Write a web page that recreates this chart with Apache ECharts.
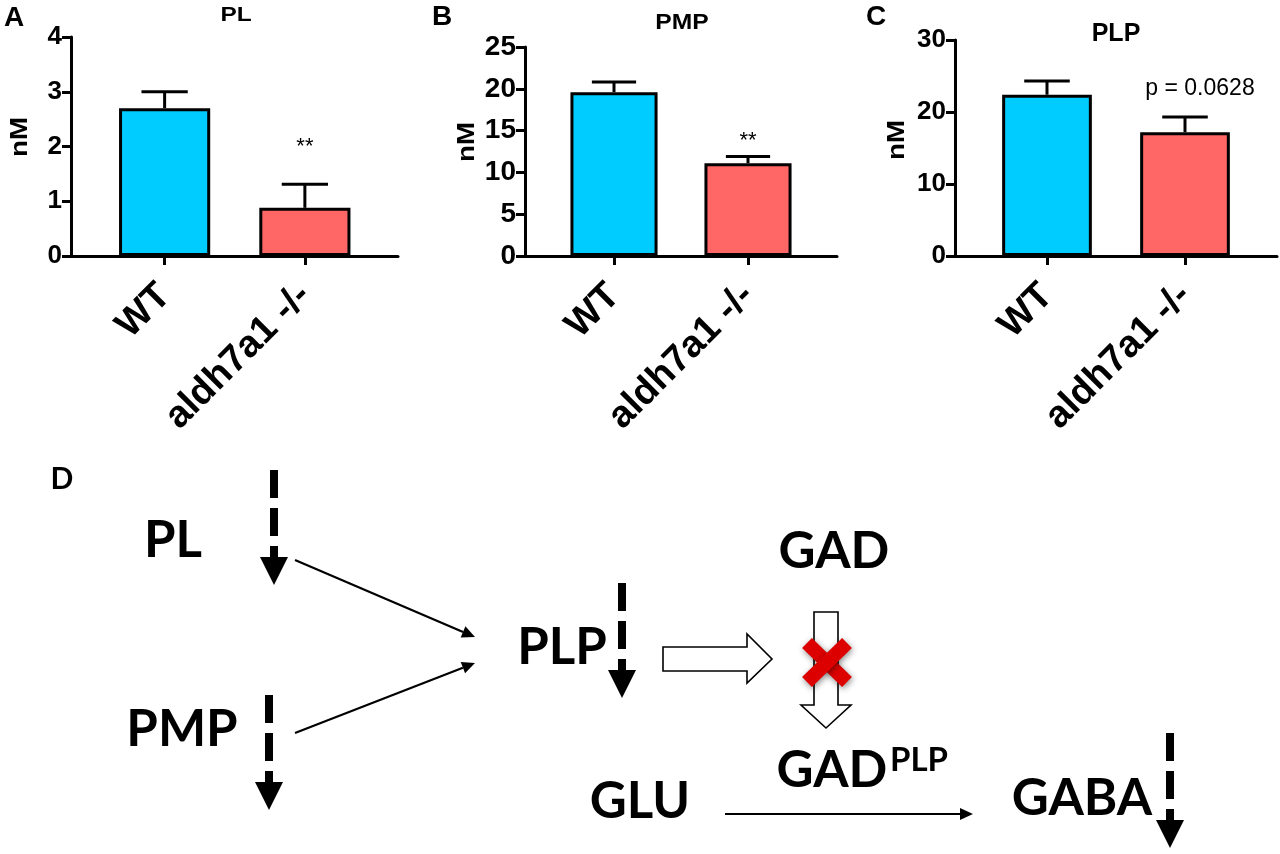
<!DOCTYPE html>
<html><head><meta charset="utf-8">
<script src="https://cdn.jsdelivr.net/npm/echarts@6/dist/echarts.min.js"></script>
<style>html,body{margin:0;padding:0;background:#fff}#chart{width:1280px;height:854px}</style>
</head><body><div id="chart"></div>
<script>
// ---- data ----
const categories = ['WT', 'aldh7a1 -/-'];
const plMean = [2.70, 0.88];
const plErr = [0.30, 0.43];
const pmpMean = [19.6, 11.1];
const pmpErr = [1.2, 0.8];
const plpMean = [22.4, 17.2];
const plpErr = [1.9, 2.1];
const panelTitles = ['PL', 'PMP', 'PLP'];
const panelLetters = ['A', 'B', 'C'];
const yMax = [4, 25, 30];
const yInterval = [1, 5, 10];
const annotText = ['**', '**', 'p = 0.0628'];
const annotValue = [2.0, 13.8, 23.2];
const annotCat = [1, 1, 1];
const barColors = ['#00CCFF', '#FF6666'];

// ---- layout (styling only) ----
const FONT = "Liberation Sans";
const DFONT = "Lato";
const layout = [
  {left: 94.5, right: 375, top: 37, axisX: 71, lineEnd: 398, tickFont: 26, titleX: 236, titleY: 15, titleSize: 20, titleScale: 1.22, letterX: 14, letterY: 18, nmX: 20, nmY: 137, annotDx: 0, annotSize: 22},
  {left: 547, right: 815, top: 47, axisX: 525, lineEnd: 837, tickFont: 28, titleX: 682, titleY: 23, titleSize: 22, titleScale: 1.12, letterX: 442, letterY: 17, nmX: 467, nmY: 142, annotDx: 0, annotSize: 22},
  {left: 978, right: 1254, top: 40, axisX: 955, lineEnd: 1277, tickFont: 26, titleX: 1116, titleY: 34, titleSize: 25, titleScale: 1.0, letterX: 876, letterY: 17, nmX: 897, nmY: 140, annotDx: 15, annotSize: 23}
];
const AXIS_BOTTOM = 256;
const means = [plMean, pmpMean, plpMean];
const errs = [plErr, pmpErr, plpErr];

const grid = [], xAxis = [], yAxis = [], series = [], graphic = [];

function tstyle(text, size, weight, family) {
  return {text, fill: '#000', fontSize: size, fontWeight: weight, fontFamily: family,
    textAlign: 'center', align: 'center', verticalAlign: 'middle', textVerticalAlign: 'middle'};
}

layout.forEach((L, i) => {
  const g = i * 2, gb = i * 2 + 1;
  grid.push({left: L.left, top: L.top, width: L.right - L.left, height: AXIS_BOTTOM - L.top});
  grid.push({left: L.axisX - 1.5, top: L.top, width: L.lineEnd - L.axisX + 1.5, height: AXIS_BOTTOM - L.top});
  xAxis.push({
    gridIndex: g, type: 'category', data: categories,
    axisLine: {show: false},
    axisTick: {show: true, alignWithLabel: true, length: 9, lineStyle: {color: '#000', width: 3}},
    axisLabel: {rotate: 45, interval: 0, margin: 34, color: '#000', fontSize: 38, fontWeight: 'bold', fontFamily: FONT},
    splitLine: {show: false}
  });
  xAxis.push({
    gridIndex: gb, type: 'value', min: 0, max: 1,
    axisLine: {show: true, onZero: false, lineStyle: {color: '#000', width: 3}},
    axisTick: {show: false}, axisLabel: {show: false}, splitLine: {show: false}
  });
  yAxis.push({
    gridIndex: g, type: 'value', min: 0, max: yMax[i], interval: yInterval[i],
    offset: L.left - L.axisX,
    axisLine: {show: true, lineStyle: {color: '#000', width: 3}},
    axisTick: {show: true, length: 9, lineStyle: {color: '#000', width: 3}},
    axisLabel: {margin: 9, color: '#000', fontSize: L.tickFont, fontWeight: 'bold', fontFamily: FONT},
    splitLine: {show: false}
  });
  yAxis.push({gridIndex: gb, type: 'value', min: 0, max: 1, show: false});

  const xi = g, yi = g;
  series.push({
    type: 'bar', xAxisIndex: xi, yAxisIndex: yi, barWidth: '65%', z: 2,
    data: means[i].map((v, k) => ({value: v, itemStyle: {color: barColors[k]}})),
    itemStyle: {borderColor: '#000', borderWidth: 3},
    emphasis: {disabled: true}, animation: false
  });
  series.push({
    type: 'custom', xAxisIndex: xi, yAxisIndex: yi, z: 3, animation: false,
    data: means[i].map((v, k) => [k, v, errs[i][k]]),
    renderItem: (params, api) => {
      const x = api.value(0), m = api.value(1), e = api.value(2);
      const p0 = api.coord([x, m]), p1 = api.coord([x, m + e]);
      const half = api.size([1, 0])[0] * 0.165;
      return {type: 'group', children: [
        {type: 'line', shape: {x1: p0[0], y1: p0[1], x2: p1[0], y2: p1[1]}, style: {stroke: '#000', lineWidth: 3}},
        {type: 'line', shape: {x1: p1[0] - half, y1: p1[1], x2: p1[0] + half, y2: p1[1]}, style: {stroke: '#000', lineWidth: 3}}
      ]};
    }
  });
  series.push({
    type: 'custom', xAxisIndex: xi, yAxisIndex: yi, z: 4, animation: false,
    data: [[annotCat[i], annotValue[i], annotText[i]]],
    renderItem: (params, api) => {
      const p = api.coord([api.value(0), api.value(1)]);
      return {type: 'text', x: p[0] + L.annotDx, y: p[1], style: tstyle(annotText[i], L.annotSize, 'normal', FONT)};
    }
  });
  graphic.push({type: 'text', x: L.letterX, y: L.letterY, style: tstyle(panelLetters[i], 28, 'bold', FONT)});
  graphic.push({type: 'text', x: L.titleX, y: L.titleY, scaleX: L.titleScale, style: tstyle(panelTitles[i], L.titleSize, 'bold', FONT)});
  graphic.push({type: 'text', x: L.nmX, y: L.nmY, rotation: Math.PI / 2, scaleX: 1.15, style: tstyle('nM', 24, 'bold', FONT)});
});

// ---- schematic (panel D) ----
function txt(text, x, y, size) {
  return {type: 'text', x, y, style: tstyle(text, size, 'bold', DFONT)};
}
function dashedArrow(x, y0) {
  return [
    {type: 'line', shape: {x1: x, y1: y0, x2: x, y2: y0 + 88}, style: {stroke: '#000', lineWidth: 8, lineDash: [28, 10]}},
    {type: 'polygon', shape: {points: [[x - 14, y0 + 87], [x + 14, y0 + 87], [x, y0 + 115]]}, style: {fill: '#000'}}
  ];
}
function thinArrow(x1, y1, x2, y2) {
  const a = Math.atan2(y2 - y1, x2 - x1), Lh = 13, W = 6;
  const bx = x2 - Lh * Math.cos(a), by = y2 - Lh * Math.sin(a);
  return [
    {type: 'line', shape: {x1, y1, x2: bx, y2: by}, style: {stroke: '#000', lineWidth: 2.2}},
    {type: 'polygon', shape: {points: [[x2, y2], [bx - W * Math.sin(a), by + W * Math.cos(a)], [bx + W * Math.sin(a), by - W * Math.cos(a)]]}, style: {fill: '#000'}}
  ];
}
graphic.push(txt('D', 62, 479, 30));
graphic.push(txt('PL', 173, 541, 51));
graphic.push(txt('PMP', 182, 730, 51));
graphic.push(txt('PLP', 562, 648, 51));
graphic.push(txt('GAD', 834, 552, 51));
graphic.push(txt('GAD', 832, 771, 51));
graphic.push(txt('PLP', 919, 760, 33));
graphic.push(txt('GLU', 640, 802, 51));
graphic.push(txt('GABA', 1082, 799, 51));
graphic.push(...dashedArrow(274, 470));
graphic.push(...dashedArrow(269, 695));
graphic.push(...dashedArrow(622, 583));
graphic.push(...dashedArrow(1170, 733));
graphic.push(...thinArrow(295, 560, 475, 637));
graphic.push(...thinArrow(295, 733, 475, 663));
graphic.push(...thinArrow(725, 814, 973, 814));
graphic.push({type: 'polygon', shape: {points: [[663, 647], [747, 647], [747, 634], [772, 659], [747, 683], [747, 671], [663, 671]]}, style: {fill: '#fff', stroke: '#000', lineWidth: 1.6}});
graphic.push({type: 'polygon', shape: {points: [[814, 612], [838, 612], [838, 705], [851, 705], [826, 728], [801, 705], [814, 705]]}, style: {fill: '#fff', stroke: '#000', lineWidth: 1.6}});
const xStyle = {stroke: '#DD0000', lineWidth: 14, shadowBlur: 6, shadowColor: 'rgba(0,0,0,0.45)', shadowOffsetX: 1, shadowOffsetY: 2};
graphic.push({type: 'line', z: 10, shape: {x1: 807, y1: 643, x2: 847, y2: 682}, style: xStyle});
graphic.push({type: 'line', z: 10, shape: {x1: 847, y1: 643, x2: 807, y2: 682}, style: xStyle});

const chart = echarts.init(document.getElementById('chart'), null, {renderer: 'canvas'});
chart.setOption({
  animation: false,
  backgroundColor: '#fff',
  grid, xAxis, yAxis, series, graphic
});
</script></body></html>
